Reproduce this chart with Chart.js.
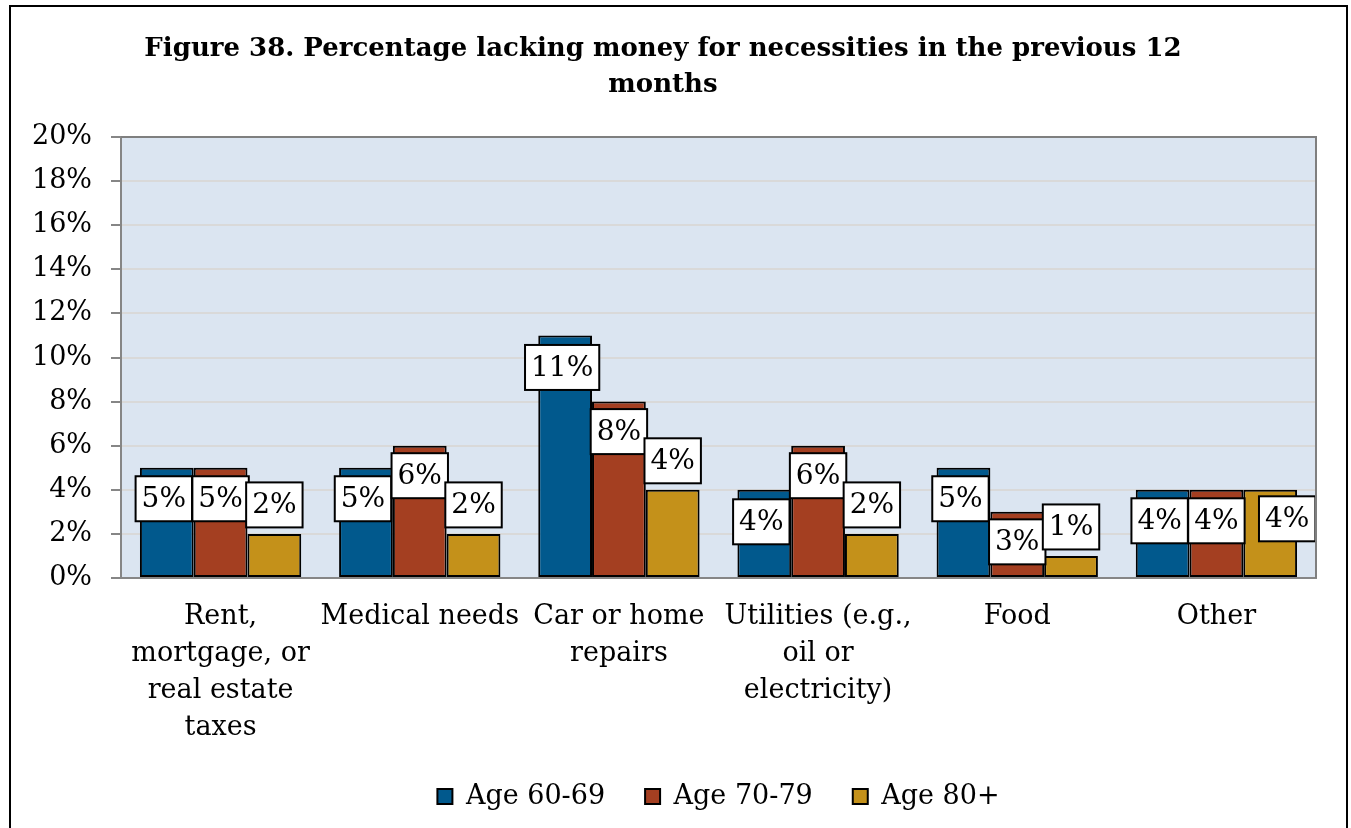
<!DOCTYPE html>
<html>
<head>
<meta charset="utf-8">
<script src="https://cdn.jsdelivr.net/npm/chart.js@4.4.1/dist/chart.umd.min.js"></script>
<style>
  body { margin: 0; background: #fff; }
  canvas { display: block; }
</style>
</head>
<body>
<canvas id="needsChart" width="1351" height="828"></canvas>
<script>
// categories (multi-line tick labels)
const categories = [
    ['Rent,', 'mortgage, or', 'real estate', 'taxes'],
    ['Medical needs'],
    ['Car or home', 'repairs'],
    ['Utilities (e.g.,', 'oil or', 'electricity)'],
    ['Food'],
    ['Other']
];
const age6069 = [5, 5, 11, 4, 5, 4];
const age7079 = [5, 6, 8, 6, 3, 4];
const age80plus = [2, 2, 4, 2, 1, 4];
const seriesNames = ['Age 60-69', 'Age 70-79', 'Age 80+'];
const titleLines = ['Figure 38. Percentage lacking money for necessities in the previous 12', 'months'];

const FONT = '"DejaVu Serif", serif';

// where each value box sits relative to the top of its bar (px)
const labelShiftY = [
    [31, 31, 32, 32, 31, 31],
    [31, 30, 30, 30, 30, 31],
    [-29, -29, -29, -29, -29, 29]
];
const labelShiftX = [
    [-3, -3, -3, -3, -3, -3],
    [0, 0, 0, 0, 0, 0],
    [0, 0, 0, 0, 0, 17]
];

// white page, outer frame and blue plot background
const backdrop = {
    id: 'backdrop',
    beforeDraw(chart) {
        const ctx = chart.ctx;
        const a = chart.chartArea;
        ctx.save();
        ctx.fillStyle = '#ffffff';
        ctx.fillRect(0, 0, chart.width, chart.height);
        ctx.fillStyle = '#dbe5f1';
        ctx.fillRect(a.left, a.top, a.right - a.left, a.bottom - a.top);
        ctx.strokeStyle = '#000000';
        ctx.lineWidth = 2;
        ctx.beginPath();
        ctx.moveTo(10, chart.height + 5);
        ctx.lineTo(10, 6);
        ctx.lineTo(1347, 6);
        ctx.lineTo(1347, chart.height + 5);
        ctx.stroke();
        ctx.restore();
    },
    afterDraw(chart) {
        // top and right edges of the plot area
        const ctx = chart.ctx;
        const a = chart.chartArea;
        ctx.save();
        ctx.strokeStyle = '#7f7f7f';
        ctx.lineWidth = 2;
        ctx.beginPath();
        ctx.moveTo(a.left, a.top);
        ctx.lineTo(a.right, a.top);
        ctx.lineTo(a.right, a.bottom);
        ctx.stroke();
        ctx.restore();
    }
};

// boxed percentage labels on the bars
const boxLabels = {
    id: 'boxLabels',
    afterDatasetsDraw(chart) {
        const ctx = chart.ctx;
        ctx.save();
        ctx.font = '28px ' + FONT;
        ctx.textAlign = 'center';
        ctx.textBaseline = 'middle';
        chart.data.datasets.forEach((ds, i) => {
            chart.getDatasetMeta(i).data.forEach((bar, j) => {
                const text = ds.data[j] + '%';
                const w = ctx.measureText(text).width + 12;
                const h = 45;
                const cx = bar.x + labelShiftX[i][j];
                const cy = bar.y + labelShiftY[i][j];
                ctx.fillStyle = '#ffffff';
                ctx.fillRect(cx - w / 2, cy - h / 2, w, h);
                ctx.strokeStyle = '#000000';
                ctx.lineWidth = 2;
                ctx.strokeRect(cx - w / 2, cy - h / 2, w, h);
                ctx.fillStyle = '#000000';
                ctx.fillText(text, cx, cy + 1);
            });
        });
        ctx.restore();
    }
};

const barStyle = { borderColor: '#000000', borderWidth: 2, borderSkipped: false };

new Chart(document.getElementById('needsChart').getContext('2d'), {
    type: 'bar',
    data: {
        labels: categories,
        datasets: [
            Object.assign({ label: seriesNames[0], data: age6069, backgroundColor: '#01598d' }, barStyle),
            Object.assign({ label: seriesNames[1], data: age7079, backgroundColor: '#a43f21' }, barStyle),
            Object.assign({ label: seriesNames[2], data: age80plus, backgroundColor: '#c4911a' }, barStyle)
        ]
    },
    options: {
        responsive: false,
        animation: false,
        layout: { padding: { left: 10, right: 35, top: 0, bottom: 8 } },
        datasets: { bar: { categoryPercentage: 0.81, barPercentage: 1 } },
        plugins: {
            title: {
                display: true,
                text: titleLines,
                color: '#000000',
                font: { family: FONT, size: 26, weight: 'bold', lineHeight: '36px' },
                padding: { top: 31, bottom: 34 }
            },
            legend: {
                display: true,
                position: 'bottom',
                fullSize: false,
                labels: {
                    color: '#000000',
                    font: { family: FONT, size: 27 },
                    boxWidth: 15,
                    boxHeight: 15,
                    padding: 40
                }
            },
            tooltip: { enabled: false }
        },
        scales: {
            x: {
                grid: { display: false, drawTicks: false },
                border: { color: '#868686', width: 2 },
                ticks: {
                    color: '#000000',
                    maxRotation: 0,
                    autoSkip: false,
                    padding: 20,
                    font: { family: FONT, size: 27, lineHeight: '37px' }
                },
                afterFit(scale) { scale.height = 165; }
            },
            y: {
                min: 0,
                max: 20,
                grid: { color: '#d9d9d9', lineWidth: 2, tickColor: '#868686', tickLength: 10 },
                border: { color: '#868686', width: 2 },
                ticks: {
                    stepSize: 2,
                    color: '#000000',
                    padding: 19,
                    font: { family: FONT, size: 27 },
                    callback: v => v + '%'
                },
                afterFit(scale) { scale.width = 111; }
            }
        }
    },
    plugins: [backdrop, boxLabels]
});
</script>
</body>
</html>
